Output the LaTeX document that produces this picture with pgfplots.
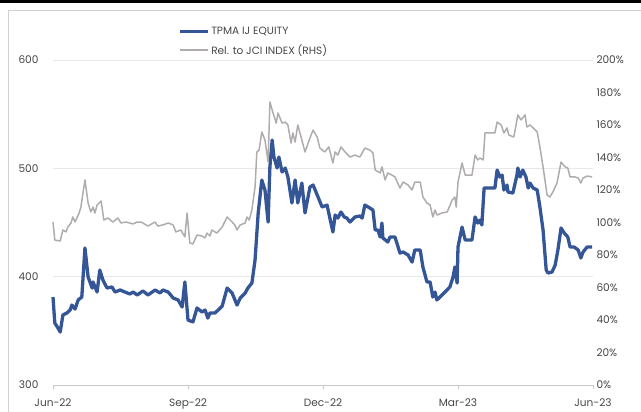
\documentclass[border=0pt]{standalone}
\usepackage{fontspec}
\setmainfont{Poppins}
\usepackage{pgfplots}
\pgfplotsset{compat=1.18}
\definecolor{tpblue}{RGB}{52,86,150}
\definecolor{relgrey}{RGB}{176,172,172}
\definecolor{lblcol}{RGB}{70,70,70}
\begin{document}
\begin{tikzpicture}
\useasboundingbox (0bp,0bp) rectangle (641bp,412bp);
\fill[black] (0bp,408.8bp) rectangle (641bp,412bp);
\draw[black!18, line width=0.8bp] (8bp,-5bp) rectangle (650bp,402bp);
\begin{axis}[
  at={(53bp,27bp)}, anchor=south west,
  scale only axis, width=540bp, height=325bp,
  xmin=0, xmax=12, ymin=300, ymax=600,
  xtick={0,3,6,9,12},
  xticklabels={Jun-22,Sep-22,Dec-22,Mar-23,Jun-23},
  ytick={300,400,500,600},
  axis x line*=bottom, axis y line*=left,
  y axis line style={draw=none},
  x axis line style={black!22, line width=0.8bp},
  ytick style={draw=none},
  xtick style={black!22, line width=0.8bp},
  tick align=outside, major tick length=4bp,
  ymajorgrids, grid style={black!9, line width=0.7bp},
  /pgf/number format/assume math mode=true,
  tick label style={font=\fontsize{10.6}{12}\selectfont, text=lblcol},
  yticklabel style={xshift=-7bp},
  xticklabel style={yshift=-6bp},
  clip=false,
]
\addplot[tpblue, line width=3.3bp, line join=round] coordinates {
(0.00,381.2)(0.04,357.2)(0.11,352.6)(0.16,348.9)(0.22,364.6)(0.31,366.5)(0.38,369.2)(0.42,373.8)(0.49,370.1)(0.56,378.5)
(0.64,381.2)(0.71,426.5)(0.78,399.7)(0.87,389.5)(0.89,395.1)(0.98,385.8)(1.04,406.1)(1.11,396.9)(1.20,389.5)(1.31,390.5)
(1.38,385.8)(1.49,387.7)(1.60,385.8)(1.71,384.0)(1.78,385.8)(1.87,383.1)(2.00,386.8)(2.11,383.1)(2.27,387.7)(2.38,384.9)
(2.44,387.7)(2.56,385.8)(2.67,380.3)(2.78,378.5)(2.87,372.0)(2.93,395.1)(3.00,360.0)(3.11,358.2)(3.20,371.1)(3.31,367.4)
(3.38,369.2)(3.44,361.8)(3.49,366.5)(3.60,366.5)(3.67,369.2)(3.76,372.9)(3.87,389.5)(3.98,384.9)(4.09,373.8)(4.16,380.3)
(4.27,384.9)(4.33,389.5)(4.42,394.1)(4.49,415.4)(4.56,458.8)(4.64,489.2)(4.71,480.0)(4.78,450.4)(4.82,501.2)(4.87,526.1)
(4.91,510.4)(4.98,500.3)(5.02,510.4)(5.09,496.6)(5.16,500.3)(5.22,492.0)(5.31,468.0)(5.38,489.2)(5.44,468.0)(5.53,486.4)
(5.60,458.8)(5.71,482.8)(5.78,484.6)(5.89,473.5)(5.98,464.3)(6.09,466.1)(6.22,441.2)(6.27,456.9)(6.33,454.1)(6.40,459.7)
(6.47,455.1)(6.53,454.1)(6.60,450.4)(6.71,455.1)(6.82,456.0)(6.87,454.1)(6.93,466.1)(7.04,463.4)(7.11,461.5)(7.16,443.1)
(7.22,443.1)(7.27,436.6)(7.31,449.5)(7.33,435.7)(7.44,432.0)(7.49,436.6)(7.60,436.6)(7.71,421.8)(7.78,422.8)(7.89,420.0)
(7.98,413.5)(8.04,424.6)(8.16,424.6)(8.22,408.9)(8.31,395.1)(8.38,395.1)(8.44,381.2)(8.49,385.8)(8.53,378.5)(8.60,381.2)
(8.71,385.8)(8.82,390.5)(8.89,399.7)(8.93,408.9)(8.98,394.1)(9.00,427.4)(9.09,445.8)(9.16,433.8)(9.31,433.8)(9.38,455.1)
(9.44,449.5)(9.49,452.3)(9.53,447.7)(9.58,481.8)(9.82,481.8)(9.87,498.4)(9.93,492.0)(9.98,493.8)(10.02,480.0)(10.09,484.6)
(10.11,478.1)(10.22,477.2)(10.31,493.8)(10.33,500.3)(10.38,492.0)(10.44,498.4)(10.51,492.0)(10.56,481.8)(10.60,486.4)(10.67,481.8)
(10.76,480.0)(10.82,464.3)(10.89,443.1)(10.96,406.1)(11.00,403.4)(11.09,404.3)(11.16,410.8)(11.22,424.6)(11.29,444.9)(11.36,440.3)
(11.44,436.6)(11.49,427.4)(11.58,427.4)(11.67,424.6)(11.73,417.2)(11.78,422.8)(11.87,427.4)(11.98,427.4)
};
\end{axis}
\begin{axis}[
  at={(53bp,27bp)}, anchor=south west,
  scale only axis, width=540bp, height=325bp,
  xmin=0, xmax=12, ymin=0, ymax=200,
  axis x line=none, axis y line*=right,
  y axis line style={draw=none},
  ytick={0,20,...,200},
  ytick style={draw=none},
  yticklabel={\pgfmathprintnumber{\tick}\%},
  /pgf/number format/assume math mode=true,
  tick label style={font=\fontsize{10.6}{12}\selectfont, text=lblcol},
  yticklabel style={anchor=west, xshift=0bp},
  clip=false,
  legend style={draw=none, fill=none, at={(0.232,1.106)}, anchor=north west,
    font=\fontsize{10.6}{12}\selectfont, text=lblcol, row sep=5bp, inner sep=0pt,
    nodes={inner sep=1.5bp}},
  legend cell align=left,
  legend image code/.code={\draw[#1] (0bp,0bp) -- (28bp,0bp);},
]
\addlegendimage{tpblue, line width=3.3bp}
\addlegendentry{TPMA IJ EQUITY}
\addplot[relgrey, line width=1.5bp, line join=round] coordinates {
(0.00,100.3)(0.04,89.2)(0.16,88.6)(0.22,95.4)(0.29,94.2)(0.33,97.2)(0.40,99.7)(0.44,103.4)(0.49,100.3)(0.58,105.8)
(0.62,109.5)(0.71,126.2)(0.78,112.0)(0.84,106.5)(0.89,109.5)(0.93,105.8)(0.98,110.8)(1.07,113.2)(1.13,101.5)(1.22,102.8)
(1.33,100.3)(1.44,102.8)(1.51,99.7)(1.62,100.3)(1.78,99.1)(1.87,100.3)(1.96,100.3)(2.11,97.8)(2.27,100.3)(2.33,97.8)
(2.44,98.5)(2.56,99.7)(2.67,98.5)(2.73,94.2)(2.84,95.4)(2.93,91.1)(2.98,105.8)(3.04,87.4)(3.11,86.8)(3.20,92.3)
(3.31,91.7)(3.38,90.5)(3.42,93.5)(3.49,91.7)(3.53,95.4)(3.64,93.5)(3.76,97.2)(3.87,103.4)(3.98,100.3)(4.04,98.5)
(4.09,95.4)(4.16,98.5)(4.27,99.7)(4.31,103.4)(4.36,101.5)(4.42,107.7)(4.44,112.0)(4.49,121.8)(4.53,143.4)(4.58,144.6)
(4.64,155.7)(4.71,150.8)(4.78,137.2)(4.82,174.2)(4.89,167.4)(4.96,161.2)(5.00,167.4)(5.09,161.2)(5.16,161.8)(5.22,160.0)
(5.29,148.9)(5.33,155.1)(5.38,149.5)(5.44,160.0)(5.53,150.8)(5.60,143.4)(5.71,152.0)(5.78,156.9)(5.87,152.6)(5.93,145.8)
(6.04,143.4)(6.13,146.5)(6.22,136.6)(6.27,143.4)(6.33,141.5)(6.40,146.5)(6.49,143.4)(6.60,140.3)(6.71,141.5)(6.82,140.3)
(6.93,145.8)(7.04,144.6)(7.11,142.8)(7.16,132.3)(7.27,130.5)(7.31,134.2)(7.38,126.2)(7.44,130.5)(7.53,129.2)(7.60,128.0)
(7.71,121.2)(7.78,124.9)(7.89,123.1)(7.98,120.0)(8.04,124.9)(8.16,124.9)(8.22,115.7)(8.31,112.0)(8.38,110.8)(8.44,103.4)
(8.49,107.7)(8.53,104.6)(8.64,105.8)(8.76,106.5)(8.87,113.8)(8.93,115.7)(8.96,109.5)(9.00,124.9)(9.09,136.6)(9.16,129.2)
(9.31,129.2)(9.38,141.5)(9.44,138.5)(9.49,139.7)(9.56,138.5)(9.60,155.1)(9.82,155.1)(9.87,161.8)(9.96,160.0)(10.02,155.1)
(10.09,158.2)(10.13,153.8)(10.24,152.6)(10.31,163.1)(10.33,166.2)(10.40,163.1)(10.49,166.2)(10.53,158.8)(10.60,160.0)(10.67,158.2)
(10.76,155.7)(10.82,146.5)(10.89,134.2)(10.98,116.9)(11.04,115.7)(11.11,118.8)(11.20,124.3)(11.29,137.2)(11.38,134.2)(11.44,133.5)
(11.49,128.0)(11.60,128.0)(11.67,127.4)(11.73,124.3)(11.78,127.4)(11.87,128.6)(11.98,128.0)
};
\addlegendentry{Rel. to JCI INDEX (RHS)}
\end{axis}
\end{tikzpicture}
\end{document}
